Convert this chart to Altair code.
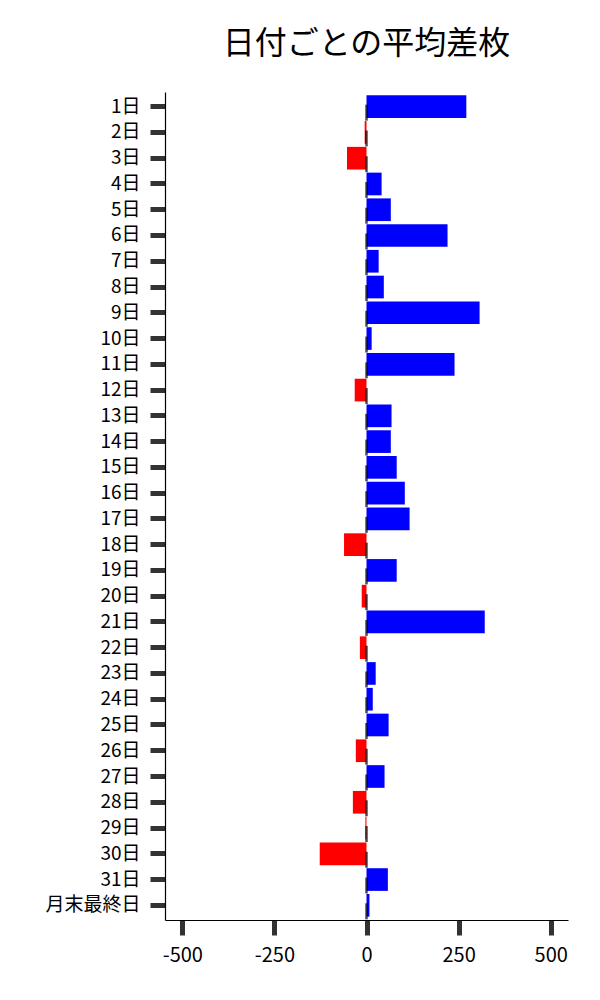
import altair as alt
import pandas as pd

days = [f"{i}日" for i in range(1, 32)] + ["月末最終日"]
values = [271, -5, -53, 41, 66, 220, 33, 47, 307, 14, 239, -32, 68, 66, 82, 104,
          117, -61, 82, -13, 321, -18, 25, 17, 60, -29, 49, -37, -3, -127, 58, 8]

df = pd.DataFrame({"day": days, "value": values})

FONT = "Noto Sans CJK JP"

y_enc = alt.Y(
    "day:N", sort=None, title=None,
    scale=alt.Scale(paddingInner=0.12, paddingOuter=0.13),
    axis=alt.Axis(labelFontSize=19, labelFont=FONT, labelColor="black",
                  labelPadding=10, tickSize=15, tickWidth=5, tickColor="#333333",
                  domainColor="black", domainWidth=1.2, grid=False),
)

x_enc = alt.X(
    "value:Q", title=None,
    scale=alt.Scale(domain=[-547, 547], nice=False, zero=False),
    axis=alt.Axis(values=[-500, -250, 0, 250, 500], labelFontSize=20, labelFont=FONT,
                  labelColor="black", labelPadding=10, tickSize=15, tickWidth=5,
                  tickColor="#333333", domainColor="black", domainWidth=1.2, grid=False,
                  labelExpr="datum.value < 0 ? '-' + abs(datum.value) : '' + datum.value"),
)

bars = alt.Chart(df).mark_bar().encode(
    x=x_enc,
    x2=alt.datum(0),
    y=y_enc,
    color=alt.condition(alt.datum.value >= 0, alt.value("#0000ff"), alt.value("#ff0000")),
)

ticks = alt.Chart(df).mark_tick(orient="vertical", size=16, thickness=2.5,
                                color="black", yOffset=6).encode(
    x=alt.datum(0),
    y=alt.Y("day:N", sort=None),
)

chart = (bars + ticks).properties(
    width=403,
    height=828,
    title=alt.TitleParams("日付ごとの平均差枚", font=FONT, fontSize=32,
                          fontWeight="normal", color="black", anchor="middle", offset=31),
    autosize=alt.AutoSizeParams(type="none"),
    padding={"left": 157, "top": 84, "right": 24, "bottom": 70},
).configure_view(stroke=None)

chart.save("out.html", embed_options={"renderer": "svg", "actions": False})
